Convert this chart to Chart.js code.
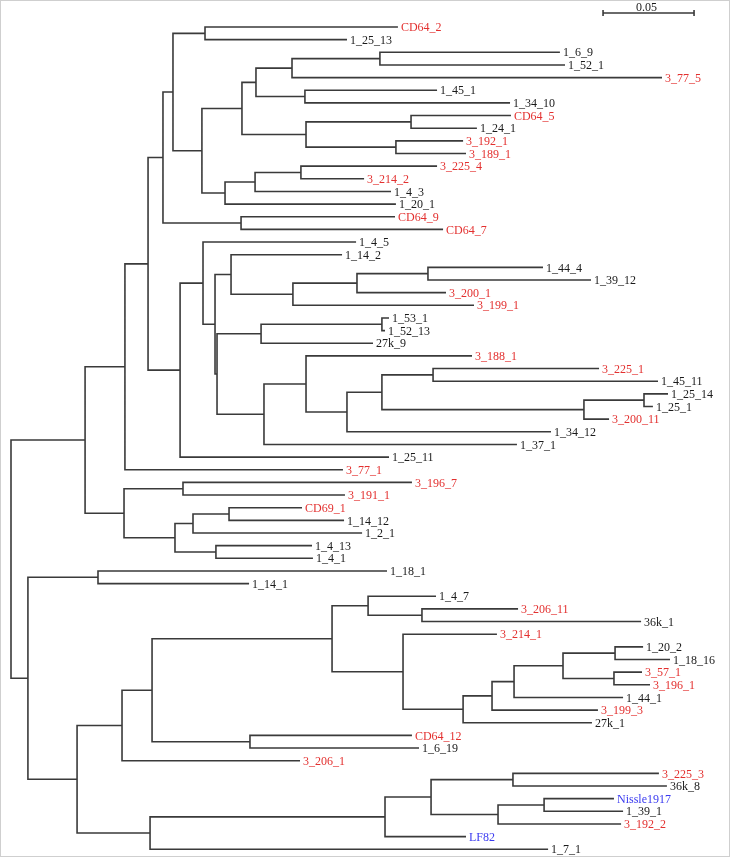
<!DOCTYPE html>
<html><head><meta charset="utf-8">
<script src="https://cdn.jsdelivr.net/npm/chart.js@4/dist/chart.umd.min.js"></script>
<style>html,body{margin:0;padding:0;background:#fff}#wrap{width:731px;height:858px;position:relative}</style>
</head><body><div id="wrap"><canvas id="c"></canvas></div>
<script>
// Leaves, top to bottom
const leafNames = ['CD64_2','1_25_13','1_6_9','1_52_1','3_77_5','1_45_1','1_34_10','CD64_5','1_24_1','3_192_1',
 '3_189_1','3_225_4','3_214_2','1_4_3','1_20_1','CD64_9','CD64_7','1_4_5','1_14_2','1_44_4',
 '1_39_12','3_200_1','3_199_1','1_53_1','1_52_13','27k_9','3_188_1','3_225_1','1_45_11','1_25_14',
 '1_25_1','3_200_11','1_34_12','1_37_1','1_25_11','3_77_1','3_196_7','3_191_1','CD69_1','1_14_12',
 '1_2_1','1_4_13','1_4_1','1_18_1','1_14_1','1_4_7','3_206_11','36k_1','3_214_1','1_20_2',
 '1_18_16','3_57_1','3_196_1','1_44_1','3_199_3','27k_1','CD64_12','1_6_19','3_206_1','3_225_3',
 '36k_8','Nissle1917','1_39_1','3_192_2','LF82','1_7_1'];
// Group of each leaf: A = isolates highlighted, B = reference strains, C = others
const leafGroup = ['A','C','C','C','A','C','C','A','C','A',
 'A','A','A','C','C','A','A','C','C','C',
 'C','A','A','C','C','C','A','A','C','C',
 'C','A','C','C','C','A','A','A','A','C',
 'C','C','C','C','C','C','A','C','A','C',
 'C','A','A','C','A','C','A','C','A','A',
 'C','B','C','A','B','C'];
// Distance from root of each leaf
const leafDepth = [0.2126,0.1846,0.3016,0.3044,0.3577,0.2341,0.2742,0.2747,0.2560,0.2484,
 0.2500,0.2341,0.1940,0.2088,0.2115,0.2110,0.2374,0.1896,0.1819,0.2923,
 0.3187,0.2390,0.2544,0.2077,0.2055,0.1989,0.2533,0.3231,0.3555,0.3610,
 0.3527,0.3286,0.2967,0.2780,0.2077,0.1824,0.2203,0.1835,0.1599,0.1830,
 0.1929,0.1654,0.1659,0.2066,0.1308,0.2335,0.2786,0.3462,0.2670,0.3473,
 0.3621,0.3467,0.3511,0.3363,0.3225,0.3192,0.2203,0.2242,0.1588,0.3560,
 0.3604,0.3313,0.3363,0.3352,0.2500,0.2951];
// Internal nodes n1..n64, then root
const nodeChildren = [
 ['CD64_2','1_25_13'],['1_6_9','1_52_1'],['n2','3_77_5'],['1_45_1','1_34_10'],['n3','n4'],
 ['CD64_5','1_24_1'],['3_192_1','3_189_1'],['n6','n7'],['n5','n8'],['3_225_4','3_214_2'],
 ['n10','1_4_3'],['n11','1_20_1'],['n9','n12'],['n1','n13'],['CD64_9','CD64_7'],
 ['n14','n15'],['1_44_4','1_39_12'],['n17','3_200_1'],['n18','3_199_1'],['1_14_2','n19'],
 ['1_53_1','1_52_13'],['n21','27k_9'],['3_225_1','1_45_11'],['1_25_14','1_25_1'],['n24','3_200_11'],
 ['n23','n25'],['n26','1_34_12'],['3_188_1','n27'],['n28','1_37_1'],['n22','n29'],
 ['n20','n30'],['1_4_5','n31'],['n32','1_25_11'],['n16','n33'],['n34','3_77_1'],
 ['3_196_7','3_191_1'],['CD69_1','1_14_12'],['n37','1_2_1'],['1_4_13','1_4_1'],['n38','n39'],
 ['n36','n40'],['n35','n41'],['1_18_1','1_14_1'],['3_206_11','36k_1'],['1_4_7','n44'],
 ['1_20_2','1_18_16'],['3_57_1','3_196_1'],['n46','n47'],['n48','1_44_1'],['n49','3_199_3'],
 ['n50','27k_1'],['3_214_1','n51'],['n45','n52'],['CD64_12','1_6_19'],['n53','n54'],
 ['n55','3_206_1'],['3_225_3','36k_8'],['Nissle1917','1_39_1'],['n58','3_192_2'],['n57','n59'],
 ['n60','LF82'],['n61','1_7_1'],['n56','n62'],['n43','n63'],['n42','n64']];
const nodeDepth = [0.1066,0.2027,0.1544,0.1615,0.1346,0.2198,0.2115,0.1621,0.1269,0.1593,
 0.1341,0.1176,0.1049,0.0890,0.1264,0.0835,0.2291,0.1901,0.1549,0.1209,
 0.2038,0.1374,0.2319,0.3478,0.3148,0.2038,0.1846,0.1621,0.1390,0.1132,
 0.1121,0.1055,0.0929,0.0753,0.0626,0.0945,0.1198,0.1000,0.1126,0.0901,
 0.0621,0.0407,0.0478,0.2258,0.1962,0.3319,0.3313,0.3033,0.2764,0.2643,
 0.2484,0.2154,0.1764,0.1313,0.0775,0.0610,0.2758,0.2929,0.2676,0.2308,
 0.2055,0.0764,0.0363,0.0093,0];
const scaleBarValue = 0.05;
const scaleBarStart = 0.3253;
const scaleBarLabel = '0.05';

const groupColor = {A:'#e3302f', B:'#3a3af0', C:'#1a1a1a'};
const LINE = '#3a3a3a';

const leafIndex = {};
leafNames.forEach((n,i)=>{leafIndex[n]=i;});
const isNode = id => /^n\d+$/.test(id);
const nodeY = {};
function yOf(id){
  if (!isNode(id)) return leafIndex[id];
  const k = +id.slice(1)-1;
  if (nodeY[k] === undefined) {
    const [a,b] = nodeChildren[k];
    nodeY[k] = (yOf(a)+yOf(b))/2;
  }
  return nodeY[k];
}
function dOf(id){ return isNode(id) ? nodeDepth[+id.slice(1)-1] : leafDepth[leafIndex[id]]; }

const gap = {x:null, y:null};
const treePts = [];
nodeChildren.forEach((ch,k)=>{
  const [a,b] = ch;
  const x = nodeDepth[k];
  treePts.push({x:dOf(a),y:yOf(a)},{x:x,y:yOf(a)},{x:x,y:yOf(b)},{x:dOf(b),y:yOf(b)},gap);
});

const barY = -1.107, capH = 0.237;
const barPts = [
  {x:scaleBarStart,y:barY-capH},{x:scaleBarStart,y:barY+capH},gap,
  {x:scaleBarStart,y:barY},{x:scaleBarStart+scaleBarValue,y:barY},gap,
  {x:scaleBarStart+scaleBarValue,y:barY-capH},{x:scaleBarStart+scaleBarValue,y:barY+capH}
];

const framePlugin = {
  id:'frame',
  beforeDraw(chart){
    const c = chart.ctx;
    c.save();
    c.fillStyle = '#fff';
    c.fillRect(0,0,chart.width,chart.height);
    c.strokeStyle = '#cfcfcf';
    c.lineWidth = 1;
    c.strokeRect(0.5,0.5,chart.width-2,chart.height-2);
    c.restore();
  }
};
const labelPlugin = {
  id:'leafLabels',
  afterDatasetsDraw(chart){
    const c = chart.ctx, xs = chart.scales.x, ys = chart.scales.y;
    c.save();
    c.font = '12px "Liberation Serif", "Times New Roman", serif';
    c.textBaseline = 'middle';
    c.textAlign = 'left';
    leafNames.forEach((n,i)=>{
      c.fillStyle = groupColor[leafGroup[i]];
      c.fillText(n, xs.getPixelForValue(leafDepth[i]) + 3, ys.getPixelForValue(i) + 1);
    });
    c.fillStyle = '#1a1a1a';
    c.textAlign = 'center';
    c.fillText(scaleBarLabel, xs.getPixelForValue(scaleBarStart + scaleBarValue/2) - 2, ys.getPixelForValue(barY) - 5);
    c.restore();
  }
};

new Chart(document.getElementById('c'), {
  type:'line',
  data:{datasets:[
    {data:treePts, borderColor:LINE, borderWidth:1.6, pointRadius:0, spanGaps:false, tension:0, fill:false},
    {data:barPts, borderColor:LINE, borderWidth:1.6, pointRadius:0, spanGaps:false, tension:0, fill:false}
  ]},
  options:{
    responsive:true, maintainAspectRatio:false, animation:false,
    layout:{padding:0},
    plugins:{legend:{display:false}, tooltip:{enabled:false}},
    events:[],
    scales:{
      x:{type:'linear', display:false, min:-0.006044, max:0.395604},
      y:{type:'linear', display:false, reverse:true, min:-2.1344, max:65.692}
    }
  },
  plugins:[framePlugin,labelPlugin]
});
</script></body></html>
